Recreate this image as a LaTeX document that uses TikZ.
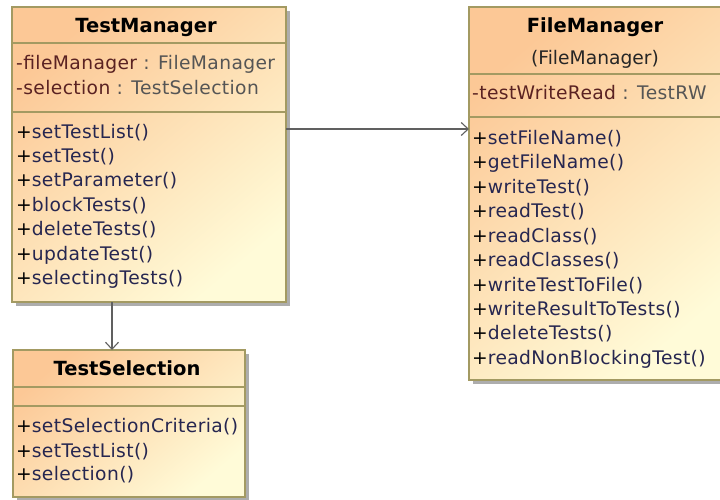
\documentclass[tikz,border=0pt]{standalone}
\usepackage{fontspec}
\usetikzlibrary{arrows.meta,shadows}
\newfontfamily\umlfont{DejaVu Sans}
\newfontfamily\umlmemberfont[LetterSpace=2]{DejaVu Sans}

\definecolor{peach}{HTML}{FCC896}
\definecolor{cream}{HTML}{FFFBD8}
\definecolor{boxline}{HTML}{A39A62}
\definecolor{attrc}{HTML}{5A2222}
\definecolor{typec}{HTML}{555555}
\definecolor{opc}{HTML}{262650}
\definecolor{linkc}{HTML}{606060}

\newcommand\umlattr[2]{{\color{attrc}-#1}\ {\color{typec}: #2}}
\newcommand\umlop[1]{+{\color{opc}#1()}}

\tikzset{
  classbox/.style={rectangle, draw=boxline, line width=1.3pt, inner sep=0pt, outer sep=0pt,
    top color=peach, bottom color=cream, shading angle=40,
    drop shadow={shadow xshift=4pt, shadow yshift=-4pt, fill=black!32, opacity=1}},
  sepline/.style={draw=boxline, line width=1.2pt},
  title/.style={font=\umlfont\bfseries\fontsize{19.5}{22}\selectfont, anchor=mid, inner sep=0pt},
  subtitle/.style={font=\umlfont\fontsize{18.7}{22}\selectfont, text=black!85, anchor=mid, inner sep=0pt},
  member/.style={font=\umlmemberfont\fontsize{18.7}{22}\selectfont, anchor=mid west, inner sep=0pt},
  assoc/.style={draw=linkc, line width=1.3pt, -{Straight Barb[length=7pt,width=13pt,line width=1.1pt]}}
}

\begin{document}
\begin{tikzpicture}[x=1pt,y=-1pt]
\useasboundingbox (0,0) rectangle (720,499);

% class TestManager
\node[classbox, minimum width=274pt, minimum height=295pt] (tm) at (149,154.5) {};
\draw[sepline] (tm.west |- 0,43) -- (tm.east |- 0,43);
\draw[sepline] (tm.west |- 0,112) -- (tm.east |- 0,112);
\node[title] (tmT) at (146,30) {TestManager};
\node[member] (tmA1) at (16,67) {\umlattr{fileManager}{FileManager}};
\node[member] (tmA2) at (16,92) {\umlattr{selection}{TestSelection}};
\node[member] (tmO1) at (16,136) {\umlop{setTestList}};
\node[member] (tmO2) at (16,160) {\umlop{setTest}};
\node[member] (tmO3) at (16,184.5) {\umlop{setParameter}};
\node[member] (tmO4) at (16,209) {\umlop{blockTests}};
\node[member] (tmO5) at (16,233.5) {\umlop{deleteTests}};
\node[member] (tmO6) at (16,258) {\umlop{updateTest}};
\node[member] (tmO7) at (16,282.5) {\umlop{selectingTests}};

% class FileManager
\node[classbox, minimum width=257pt, minimum height=373pt] (fm) at (597.5,193.5) {};
\draw[sepline] (fm.west |- 0,74) -- (fm.east |- 0,74);
\draw[sepline] (fm.west |- 0,117) -- (fm.east |- 0,117);
\node[title] (fmT) at (595,30) {FileManager};
\node[subtitle] (fmS) at (595,62) {(FileManager)};
\node[member] (fmA1) at (472,97) {\umlattr{testWriteRead}{TestRW}};
\node[member] (fmO1) at (472,142) {\umlop{setFileName}};
\node[member] (fmO2) at (472,166.5) {\umlop{getFileName}};
\node[member] (fmO3) at (472,191) {\umlop{writeTest}};
\node[member] (fmO4) at (472,215.5) {\umlop{readTest}};
\node[member] (fmO5) at (472,240) {\umlop{readClass}};
\node[member] (fmO6) at (472,264.5) {\umlop{readClasses}};
\node[member] (fmO7) at (472,289) {\umlop{writeTestToFile}};
\node[member] (fmO8) at (472,313) {\umlop{writeResultToTests}};
\node[member] (fmO9) at (472,337.5) {\umlop{deleteTests}};
\node[member] (fmO10) at (472,362) {\umlop{readNonBlockingTest}};

% class TestSelection
\node[classbox, minimum width=232pt, minimum height=147pt] (ts) at (129,423.5) {};
\draw[sepline] (ts.west |- 0,387) -- (ts.east |- 0,387);
\draw[sepline] (ts.west |- 0,406) -- (ts.east |- 0,406);
\node[title] (tsT) at (127,373) {TestSelection};
\node[member] (tsO1) at (16,430) {\umlop{setSelectionCriteria}};
\node[member] (tsO2) at (16,455) {\umlop{setTestList}};
\node[member] (tsO3) at (16,478.5) {\umlop{selection}};

% associations
\draw[assoc] ([yshift=25.5pt]tm.east) -- ([yshift=25.5pt]tm.east -| fm.west);
\draw[assoc] ([xshift=-37pt]tm.south) -- ([xshift=-37pt]tm.south |- ts.north);
\end{tikzpicture}
\end{document}
